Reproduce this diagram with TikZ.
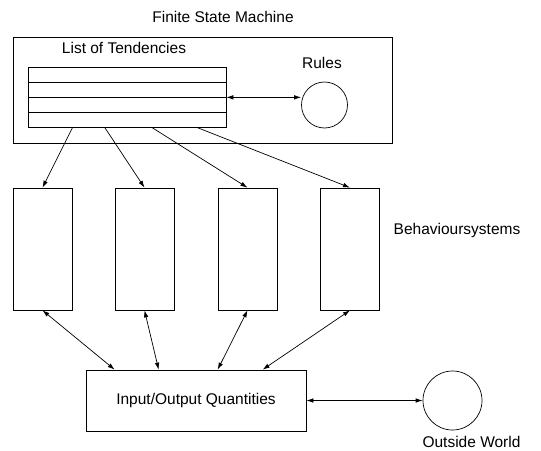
\documentclass[tikz,border=0pt]{standalone}
\usepackage{fontspec}
\setmainfont{Liberation Sans}
\usetikzlibrary{arrows.meta}

\begin{document}
\begin{tikzpicture}[x=1pt,y=-1pt,
box/.style = {draw, rectangle, inner sep=0pt, minimum width=#1},
row/.style = {box=198pt, minimum height=15pt},
bsys/.style = {box=59pt, minimum height=122pt},
ring/.style = {draw, circle, inner sep=0pt, minimum size=#1},
lbl/.style = {inner sep=1pt},
every node/.append style = {font=\fontsize{15.5}{18}\selectfont},
line width=0.7pt, >={Latex[length=7pt,width=4.5pt]}]
\useasboundingbox (0,0) rectangle (541,450);
    % finite state machine
    \node[box=379pt, minimum height=106pt] (fsm) at (202.5,90) {};
    \node[lbl] (fsmname) at (223,17) {Finite State Machine};
    \node[lbl] (listname) at (124,48) {List of Tendencies};
    \node[row] (t1) at (127,74.5) {};
    \node[row] (t2) at (127,89.5) {};
    \node[row] (t3) at (127,104.5) {};
    \node[row] (t4) at (127,119.5) {};
    \node[lbl] (rulesname) at (322,63) {Rules};
    \node[ring=46pt] (rules) at (324.5,105) {};
    \draw[<->] (t2.south east) -- (t2.south east -| rules.west);

    % behaviour systems
    \node[bsys] (b1) at (42.5,249) {};
    \node[bsys] (b2) at (144.5,249) {};
    \node[bsys] (b3) at (247.5,249) {};
    \node[bsys] (b4) at (350,249) {};
    \node[lbl] (bname) at (457,230) {Behavioursystems};
    \draw[->] ([xshift=45pt]t4.south west) -- (b1.north);
    \draw[->] ([xshift=77pt]t4.south west) -- (b2.north);
    \draw[->] ([xshift=124pt]t4.south west) -- (b3.north);
    \draw[->] ([xshift=169pt]t4.south west) -- (b4.north);

    % input/output
    \node[box=220pt, minimum height=61pt] (io) at (196,400.5) {Input/Output Quantities};
    \draw[<->] ([xshift=29pt]io.north west) -- (b1.south);
    \draw[<->] ([xshift=73pt]io.north west) -- (b2.south);
    \draw[<->] ([xshift=132pt]io.north west) -- (b3.south);
    \draw[<->] ([xshift=177pt]io.north west) -- (b4.south);
    \node[ring=59pt] (world) at (452.5,400.5) {};
    \node[lbl] (worldname) at (471.5,442) {Outside World};
    \draw[<->] (io.east) -- (world.west);

\end{tikzpicture}
\end{document}
